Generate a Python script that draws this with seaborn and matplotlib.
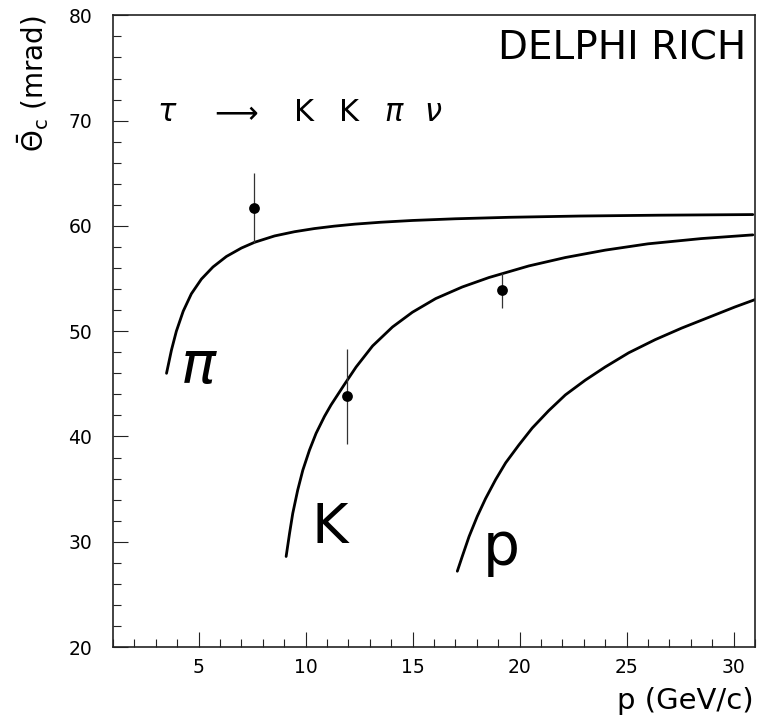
import numpy as np
import pandas as pd
import seaborn as sns
import matplotlib.pyplot as plt
from matplotlib.ticker import MultipleLocator

# curves (p in GeV/c, theta in mrad)
pi_p = [3.5, 3.73, 3.96, 4.28, 4.66, 5.13, 5.67, 6.3, 7.0, 7.62, 8.55, 9.48, 10.41,
        11.34, 12.3, 13.5, 15.0, 17.0, 19.5, 22.8, 26.5, 30.9]
pi_th = [46.0, 48.2, 50.0, 51.9, 53.55, 54.95, 56.1, 57.1, 57.9, 58.45, 59.05, 59.45, 59.75,
         59.98, 60.17, 60.35, 60.52, 60.68, 60.82, 60.94, 61.02, 61.08]

k_p = [9.09, 9.25, 9.4, 9.63, 9.87, 10.18, 10.49, 10.88, 11.19, 11.8, 12.36, 13.13,
       14.06, 14.99, 16.08, 17.32, 18.57, 20.43, 22.14, 24.0, 26.0, 28.5, 30.9]
k_th = [28.6, 30.8, 32.7, 34.9, 36.8, 38.7, 40.3, 41.9, 43.0, 44.9, 46.6, 48.6,
        50.4, 51.8, 53.1, 54.2, 55.1, 56.2, 57.0, 57.7, 58.3, 58.8, 59.15]

pr_p = [17.09, 17.32, 17.64, 18.02, 18.41, 18.88, 19.35, 19.97, 20.59, 21.36, 22.14,
        23.07, 24.0, 25.1, 26.34, 27.58, 28.82, 30.06, 31.0]
pr_th = [27.2, 28.6, 30.5, 32.4, 34.1, 35.9, 37.5, 39.2, 40.8, 42.45, 43.95,
         45.35, 46.6, 47.95, 49.2, 50.3, 51.3, 52.3, 53.0]

# measured points
meas_p = [7.57, 11.92, 19.19]
meas_th = [61.7, 43.8, 53.9]
meas_err = [3.3, 4.5, 1.65]

curves = pd.DataFrame({
    'p': pi_p + k_p + pr_p,
    'theta': pi_th + k_th + pr_th,
    'particle': ['pi'] * len(pi_p) + ['K'] * len(k_p) + ['p'] * len(pr_p),
})
meas = pd.DataFrame({'p': meas_p, 'theta': meas_th, 'err': meas_err})

sns.set_theme(style='ticks')
plt.rcParams['font.family'] = ['DejaVu Sans']
plt.rcParams['text.color'] = 'black'
plt.rcParams['xtick.color'] = 'black'
plt.rcParams['ytick.color'] = 'black'

fig = plt.figure(figsize=(7.57, 7.19), dpi=100)
ax = fig.add_axes([0.1493, 0.1001, 0.848, 0.8785])

sns.lineplot(data=curves, x='p', y='theta', units='particle', estimator=None,
             color='black', lw=2.0, ax=ax, legend=False)
ax.errorbar(meas['p'], meas['theta'], yerr=meas['err'], fmt='none',
            ecolor='#333333', elinewidth=0.9, capsize=0)
sns.scatterplot(data=meas, x='p', y='theta', color='black', s=60,
                edgecolor='black', linewidth=0, ax=ax, zorder=5)

ax.set_xlim(1, 31)
ax.set_ylim(20, 80)
ax.xaxis.set_major_locator(MultipleLocator(5))
ax.xaxis.set_minor_locator(MultipleLocator(1))
ax.yaxis.set_major_locator(MultipleLocator(10))
ax.yaxis.set_minor_locator(MultipleLocator(2))
ax.set_xticks([5, 10, 15, 20, 25, 30])
ax.tick_params(which='both', direction='in', top=False, right=False, width=0.8,
               color='#222222', labelcolor='black')
ax.tick_params(which='major', length=11, labelsize=13.5)
ax.tick_params(axis='y', which='major', pad=15)
ax.tick_params(axis='x', which='major', pad=8)
ax.tick_params(which='minor', length=5.5)
for s in ax.spines.values():
    s.set_visible(True)
    s.set_linewidth(1.2)
    s.set_color('#222222')
ax.set_xlabel('')
ax.set_ylabel('')

fig.text(0.995, 0.025, 'p (GeV/c)', ha='right', va='center', fontsize=21)
fig.text(0.044, 0.979, r'$\bar{\Theta}_{\mathrm{c}}$ (mrad)', rotation=90,
         ha='center', va='top', fontsize=20)

ax.text(30.6, 75.8, 'DELPHI RICH', ha='right', va='baseline', fontsize=28)

# decay label, glyphs spaced as in the picture
decay = [(r'$\tau$', 3.05), (r'$\longrightarrow$', 5.5), ('K', 9.48),
         ('K', 11.58), (r'$\pi$', 13.67), (r'$\nu$', 15.54)]
for txt, xpos in decay:
    ax.text(xpos, 70.0, txt, ha='left', va='baseline', fontsize=22)

ax.text(4.12, 45.1, r'$\pi$', ha='left', va='baseline', fontsize=42)
ax.text(10.27, 29.9, 'K', ha='left', va='baseline', fontsize=40)
ax.text(18.26, 27.8, 'p', ha='left', va='baseline', fontsize=42)

fig.savefig('out.png', dpi=100)
